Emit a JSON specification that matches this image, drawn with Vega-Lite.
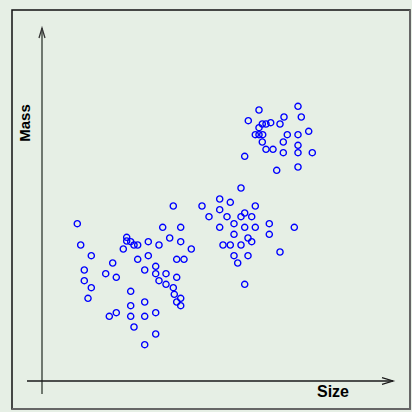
{
  "$schema": "https://vega.github.io/schema/vega-lite/v6.json",
  "width": 398,
  "height": 399,
  "autosize": "none",
  "padding": {"left": 12, "top": 10, "right": 2, "bottom": 3},
  "background": "#e6efe5",
  "config": {"view": {"stroke": "#111111", "strokeWidth": 1.5, "fill": "#e6efe5"}},
  "datasets": {
    "points": [
      {"Size": 13.13, "Mass": 17.5}, {"Size": 3.53, "Mass": 15.73}, {"Size": 12.07, "Mass": 15.37}, {"Size": 13.87, "Mass": 15.37},
      {"Size": 3.87, "Mass": 13.6}, {"Size": 8.47, "Mass": 14.37}, {"Size": 8.47, "Mass": 14.0}, {"Size": 8.87, "Mass": 13.93},
      {"Size": 9.2, "Mass": 13.6}, {"Size": 9.57, "Mass": 13.6}, {"Size": 8.13, "Mass": 13.2}, {"Size": 10.63, "Mass": 13.93},
      {"Size": 11.7, "Mass": 13.6}, {"Size": 12.77, "Mass": 14.3}, {"Size": 13.87, "Mass": 13.93}, {"Size": 14.93, "Mass": 13.2},
      {"Size": 4.93, "Mass": 12.53}, {"Size": 7.07, "Mass": 11.8}, {"Size": 9.57, "Mass": 12.17}, {"Size": 10.63, "Mass": 12.53},
      {"Size": 13.47, "Mass": 12.17}, {"Size": 14.2, "Mass": 12.17}, {"Size": 4.23, "Mass": 11.1}, {"Size": 6.37, "Mass": 10.73},
      {"Size": 7.43, "Mass": 10.37}, {"Size": 10.27, "Mass": 11.1}, {"Size": 11.37, "Mass": 11.47}, {"Size": 11.37, "Mass": 10.73},
      {"Size": 12.4, "Mass": 10.73}, {"Size": 13.47, "Mass": 10.37}, {"Size": 4.23, "Mass": 10.03}, {"Size": 4.93, "Mass": 9.33},
      {"Size": 11.7, "Mass": 10.03}, {"Size": 12.4, "Mass": 9.67}, {"Size": 13.13, "Mass": 9.33}, {"Size": 4.6, "Mass": 8.27},
      {"Size": 8.87, "Mass": 8.97}, {"Size": 13.23, "Mass": 8.67}, {"Size": 13.87, "Mass": 8.27}, {"Size": 13.47, "Mass": 7.9},
      {"Size": 13.87, "Mass": 7.53}, {"Size": 8.87, "Mass": 7.53}, {"Size": 10.27, "Mass": 7.9}, {"Size": 6.73, "Mass": 6.47},
      {"Size": 7.43, "Mass": 6.83}, {"Size": 8.87, "Mass": 6.47}, {"Size": 10.27, "Mass": 6.47}, {"Size": 11.37, "Mass": 6.83},
      {"Size": 9.2, "Mass": 5.4}, {"Size": 11.37, "Mass": 4.7}, {"Size": 10.27, "Mass": 3.63},
      {"Size": 19.9, "Mass": 19.3}, {"Size": 17.77, "Mass": 18.2}, {"Size": 18.83, "Mass": 17.87}, {"Size": 16.0, "Mass": 17.5},
      {"Size": 21.33, "Mass": 17.5}, {"Size": 17.77, "Mass": 17.13}, {"Size": 16.7, "Mass": 16.43}, {"Size": 18.5, "Mass": 16.43},
      {"Size": 20.27, "Mass": 16.8}, {"Size": 19.9, "Mass": 16.43}, {"Size": 20.97, "Mass": 16.43}, {"Size": 19.2, "Mass": 15.73},
      {"Size": 17.77, "Mass": 15.37}, {"Size": 20.27, "Mass": 15.37}, {"Size": 21.33, "Mass": 15.37}, {"Size": 22.73, "Mass": 15.73},
      {"Size": 25.23, "Mass": 15.37}, {"Size": 19.2, "Mass": 14.67}, {"Size": 20.6, "Mass": 14.3}, {"Size": 20.97, "Mass": 13.93},
      {"Size": 22.73, "Mass": 14.67}, {"Size": 18.1, "Mass": 13.6}, {"Size": 18.83, "Mass": 13.6}, {"Size": 19.9, "Mass": 13.6},
      {"Size": 23.8, "Mass": 12.9}, {"Size": 19.2, "Mass": 12.53}, {"Size": 20.6, "Mass": 12.53}, {"Size": 19.57, "Mass": 11.8},
      {"Size": 20.27, "Mass": 9.67},
      {"Size": 25.6, "Mass": 27.47}, {"Size": 21.7, "Mass": 27.1}, {"Size": 20.63, "Mass": 26.03}, {"Size": 24.2, "Mass": 26.4},
      {"Size": 25.93, "Mass": 26.4}, {"Size": 22.03, "Mass": 25.7}, {"Size": 22.4, "Mass": 25.7}, {"Size": 22.87, "Mass": 25.83},
      {"Size": 23.8, "Mass": 25.7}, {"Size": 21.7, "Mass": 25.33}, {"Size": 26.67, "Mass": 24.97}, {"Size": 21.33, "Mass": 24.63},
      {"Size": 21.7, "Mass": 24.63}, {"Size": 22.07, "Mass": 24.63}, {"Size": 24.53, "Mass": 24.63}, {"Size": 25.6, "Mass": 24.63},
      {"Size": 22.03, "Mass": 23.9}, {"Size": 24.13, "Mass": 23.9}, {"Size": 25.6, "Mass": 23.57}, {"Size": 22.4, "Mass": 23.17},
      {"Size": 23.1, "Mass": 23.17}, {"Size": 24.13, "Mass": 22.83}, {"Size": 25.6, "Mass": 22.83}, {"Size": 27.03, "Mass": 22.83},
      {"Size": 20.27, "Mass": 22.47}, {"Size": 25.6, "Mass": 21.4}, {"Size": 23.47, "Mass": 21.07}
    ]
  },
  "layer": [
    {
      "data": {"values": [{"x": 36.8, "y1": -2.8, "y2": 37.1}]},
      "mark": {"type": "rule", "color": "#666666", "strokeWidth": 2},
      "encoding": {
        "x": {"field": "x", "type": "quantitative", "scale": {"domain": [-3.0, 36.8], "nice": false, "zero": false}, "axis": null},
        "y": {"field": "y1", "type": "quantitative", "scale": {"domain": [-2.8, 37.1], "nice": false, "zero": false}, "axis": null},
        "y2": {"field": "y2"}
      }
    },
    {
      "data": {"values": [{"y": -2.8, "x1": -3.0, "x2": 36.8}]},
      "mark": {"type": "rule", "color": "#666666", "strokeWidth": 2},
      "encoding": {
        "y": {"field": "y", "type": "quantitative", "axis": null},
        "x": {"field": "x1", "type": "quantitative", "axis": null},
        "x2": {"field": "x2"}
      }
    },
    {
      "data": {"values": [{"x": 0, "y1": -1.3, "y2": 35.3}]},
      "mark": {"type": "rule", "color": "#6f786f", "strokeWidth": 2},
      "encoding": {
        "x": {"field": "x", "type": "quantitative", "axis": null},
        "y": {"field": "y1", "type": "quantitative", "axis": null},
        "y2": {"field": "y2"}
      }
    },
    {
      "data": {"values": [{"y": 0, "x1": -1.5, "x2": 35.1}]},
      "mark": {"type": "rule", "color": "#1a1a1a", "strokeWidth": 1.5},
      "encoding": {
        "y": {"field": "y", "type": "quantitative", "axis": null},
        "x": {"field": "x1", "type": "quantitative", "axis": null},
        "x2": {"field": "x2"}
      }
    },
    {
      "data": {"values": [{"x": 0, "y": 35.3}]},
      "mark": {"type": "point", "shape": "M-0.3,1L0,0L0.3,1", "size": 400, "filled": false, "stroke": "#333333", "strokeWidth": 1.3, "opacity": 1},
      "encoding": {
        "x": {"field": "x", "type": "quantitative", "axis": null},
        "y": {"field": "y", "type": "quantitative", "axis": null}
      }
    },
    {
      "data": {"values": [{"x": 35.1, "y": 0}]},
      "mark": {"type": "point", "shape": "M-1,-0.3L0,0L-1,0.3", "size": 484, "filled": false, "stroke": "#1a1a1a", "strokeWidth": 1.3, "opacity": 1},
      "encoding": {
        "x": {"field": "x", "type": "quantitative", "axis": null},
        "y": {"field": "y", "type": "quantitative", "axis": null}
      }
    },
    {
      "data": {"name": "points"},
      "mark": {"type": "point", "shape": "circle", "filled": false, "stroke": "#0000ff", "strokeWidth": 1.4, "size": 38, "opacity": 1},
      "encoding": {
        "x": {"field": "Size", "type": "quantitative", "axis": null},
        "y": {"field": "Mass", "type": "quantitative", "axis": null}
      }
    },
    {
      "data": {"values": [{"label": "Size", "x": 29.1, "y": -1.1}]},
      "mark": {"type": "text", "font": "Liberation Sans", "fontWeight": "bold", "fontSize": 16, "color": "#000000", "align": "center", "baseline": "middle"},
      "encoding": {
        "x": {"field": "x", "type": "quantitative", "axis": null},
        "y": {"field": "y", "type": "quantitative", "axis": null},
        "text": {"field": "label"}
      }
    },
    {
      "data": {"values": [{"label": "Mass", "x": -1.7, "y": 25.8}]},
      "mark": {"type": "text", "font": "Liberation Sans", "fontWeight": "bold", "fontSize": 15, "color": "#000000", "align": "center", "baseline": "middle", "angle": 270},
      "encoding": {
        "x": {"field": "x", "type": "quantitative", "axis": null},
        "y": {"field": "y", "type": "quantitative", "axis": null},
        "text": {"field": "label"}
      }
    }
  ]
}
